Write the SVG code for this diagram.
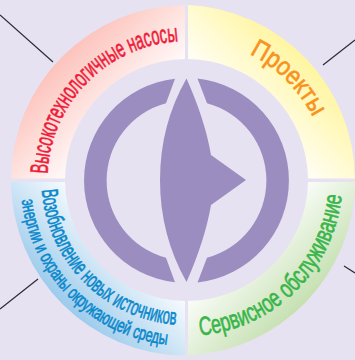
<svg xmlns="http://www.w3.org/2000/svg" width="355" height="360" viewBox="0 0 355 360">
<style>
.ln{stroke:#2a2a33;stroke-width:1.2;fill:none}
.sh{fill:#9c8dc1}
.t{font-family:"Liberation Sans",Arial,sans-serif;stroke-width:.65}
.r{fill:#ee1c3a;stroke:#ee1c3a}
.y{fill:#f7931e;stroke:#f7931e}
.b{fill:#0a88cc;stroke:#0a88cc}
.g{fill:#39b54a;stroke:#39b54a}
</style>
<defs>
<linearGradient id="gr" gradientUnits="userSpaceOnUse" x1="186.5" y1="180" x2="62.8" y2="56.3"><stop offset=".45" stop-color="#fff"/><stop offset="1" stop-color="#fdc3bc"/></linearGradient>
<linearGradient id="gy" gradientUnits="userSpaceOnUse" x1="186.5" y1="180" x2="310.2" y2="56.3"><stop offset=".45" stop-color="#fff"/><stop offset="1" stop-color="#fff59b"/></linearGradient>
<linearGradient id="gb" gradientUnits="userSpaceOnUse" x1="186.5" y1="180" x2="62.8" y2="303.7"><stop offset=".45" stop-color="#fff"/><stop offset="1" stop-color="#9ccbec"/></linearGradient>
<linearGradient id="gg" gradientUnits="userSpaceOnUse" x1="186.5" y1="180" x2="310.2" y2="303.7"><stop offset=".45" stop-color="#fff"/><stop offset="1" stop-color="#c3dfae"/></linearGradient>
<path id="pr" d="M47.600 174A139 139 0 0 1 178 41.300"/>
<path id="py" d="M249.500 54A141 141 0 0 1 312.500 116.700"/>
<path id="pg" d="M200 335.400A156 156 0 0 0 341.700 195"/>
<path id="pb1" d="M41.900 190A145 145 0 0 0 176 324.600"/>
<path id="pb2" d="M21.700 200A166 166 0 0 0 167 344.800"/>
</defs>
<rect width="355" height="360" fill="#e6e2f1"/>
<g id="connectors">
<path class="ln" d="M0 15L53 62"/>
<path class="ln" d="M323 65L355 40"/>
<path class="ln" d="M0 309L38 279"/>
<path class="ln" d="M344 266L355 273"/>
</g>
<g id="node-pumps">
<path fill="url(#gr)" d="M11 178.500A175.500 175.500 0 0 1 185 5L185 59A121.500 121.500 0 0 0 65 178.500Z"/>
<text class="t r" font-size="25"><textPath href="#pr" textLength="204" lengthAdjust="spacingAndGlyphs">Высокотехнологичные насосы</textPath></text>
</g>
<g id="node-projects">
<path fill="url(#gy)" d="M188 5A175.500 175.500 0 0 1 355 178.500L308 178.500A121.500 121.500 0 0 0 188 59Z"/>
<text class="t y" font-size="26"><textPath href="#py" textLength="91" lengthAdjust="spacingAndGlyphs">Проекты</textPath></text>
</g>
<g id="node-renewable">
<path fill="url(#gb)" d="M11 182A175.500 175.500 0 0 0 185 355.500L185 301A121.500 121.500 0 0 1 65 182Z"/>
<text class="t b" font-size="23"><textPath href="#pb1" textLength="207" lengthAdjust="spacingAndGlyphs">Возобновление новых источников</textPath></text>
<text class="t b" font-size="19"><textPath href="#pb2" textLength="221" lengthAdjust="spacingAndGlyphs">энергии и охраны окружающей среды</textPath></text>
</g>
<g id="node-service">
<path fill="url(#gg)" d="M188 355.500A175.500 175.500 0 0 0 355 182L308 182A121.500 121.500 0 0 1 188 301Z"/>
<text class="t g" font-size="26"><textPath href="#pg" textLength="216" lengthAdjust="spacingAndGlyphs">Сервисное обслуживание</textPath></text>
</g>
<g id="node-emblem">
<path class="sh" d="M175 78.650A102.500 102.500 0 0 0 175 282.350L166 257.800A80 80 0 0 1 166 103.200Z"/>
<path class="sh" d="M197.500 78.600A102.500 102.500 0 0 1 197.500 282.400L207 257.800A80 80 0 0 0 207 103.200Z"/>
<path class="sh" d="M186.500 78.500Q205 120 211 155L246 180L211 205Q205 240 186.500 282Q160 235 160 180Q160 125 186.500 78.500Z"/>
</g>
</svg>
